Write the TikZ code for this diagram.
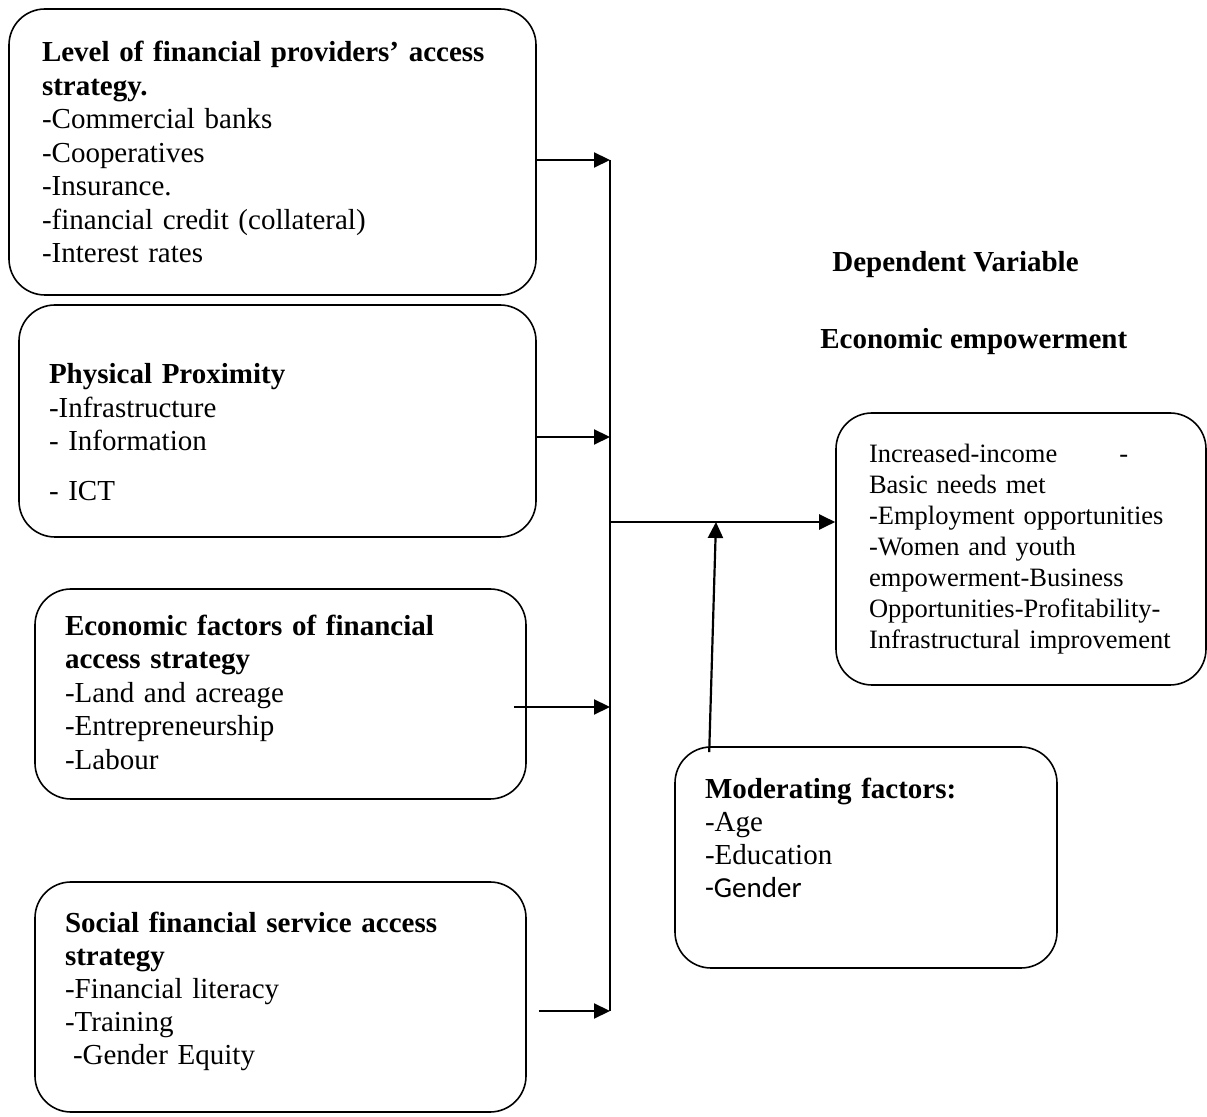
\documentclass[tikz,border=0pt]{standalone}
\usepackage{fontspec}
\setmainfont{Liberation Serif}
\newfontfamily\calibrifont{Carlito}
\usetikzlibrary{arrows.meta}

\begin{document}
\begin{tikzpicture}[x=0.5pt,y=-0.5pt,>={Triangle[length=8pt,width=7.5pt]},
  factor box/.style={draw,line width=0.8pt,rounded corners=18pt,align=left,
    inner xsep=15pt,inner ysep=2pt,font=\fontsize{14.5}{16.75}\selectfont},
  outcome box/.style={factor box,inner xsep=16.5pt,font=\fontsize{13.25}{15.5}\selectfont},
  head/.style={font=\fontsize{14.5}{16.75}\selectfont\bfseries,anchor=base west,inner sep=0pt},
  link/.style={->,line width=1.1pt}]

  \useasboundingbox (0,0) rectangle (1207,1117);

  % independent variables
  \node[factor box,inner xsep=16.5pt,text width=230.5pt,minimum height=143pt] (level) at (272.5,152)
    {\textbf{Level of financial providers’ access}\\ \textbf{strategy.}\\ -Commercial banks\\
     -Cooperatives\\ -Insurance.\\ -financial credit (collateral)\\ -Interest rates};
  \node[factor box,text width=228.5pt,minimum height=116pt] (prox) at (277.5,421)
    {\rule{0pt}{21pt}\textbf{Physical Proximity}\\ -Infrastructure\\ - Information\\[8pt] - ICT};
  \node[factor box,text width=215.5pt,minimum height=105pt] (economic) at (280.5,694)
    {\textbf{Economic factors of financial}\\ \textbf{access strategy}\\
     -Land and acreage\\ -Entrepreneurship\\ -Labour\rule[-2pt]{0pt}{0pt}};
  \node[factor box,text width=215.5pt,minimum height=115pt,font=\fontsize{14.5}{16.5}\selectfont] (social) at (280.5,997)
    {\textbf{Social financial service access}\\ \textbf{strategy}\\
     -Financial literacy\\ -Training\\ \hspace*{4pt}-Gender Equity\rule[-9pt]{0pt}{0pt}};

  % dependent variable
  \node[head] (depvar) at (832,272) {Dependent Variable};
  \node[head] (emplabel) at (820,349) {Economic empowerment};
  \node[outcome box,text width=152pt,minimum height=136pt] (empower) at (1021,549)
    {Increased-income\hspace{31pt}-\\ Basic needs met\\ -Employment opportunities\\
     -Women and youth\\ empowerment-Business\\ Opportunities-Profitability-\\ Infrastructural improvement};

  % moderating variable
  \node[factor box,text width=161pt,minimum height=110.5pt,font=\fontsize{14.5}{16.5}\selectfont] (moder) at (866,857.5)
    {\textbf{Moderating factors:}\\ -Age\\ -Education\\ {\calibrifont -Gender}\rule[-20pt]{0pt}{0pt}};

  \coordinate (bus1) at (610,160);
  \coordinate (bus2) at (610,437);
  \coordinate (bus3) at (610,707);
  \coordinate (bus4) at (610,1011);
  \coordinate (busmid) at (610,522);
  \coordinate (join) at (716,522);

  \draw[line width=1.1pt] (bus1) -- (bus4);
  \draw[link] (level.east |- bus1) -- (bus1);
  \draw[link] (prox.east |- bus2) -- (bus2);
  \draw[link,shorten <=-6.5pt] (economic.east |- bus3) -- (bus3);
  \draw[link,shorten <=6pt] (social.east |- bus4) -- (bus4);
  \draw[link] (busmid) -- (busmid -| empower.west);
  \draw[link] ([xshift=17.5pt,yshift=-3pt]moder.north west) -- (join);
\end{tikzpicture}
\end{document}
